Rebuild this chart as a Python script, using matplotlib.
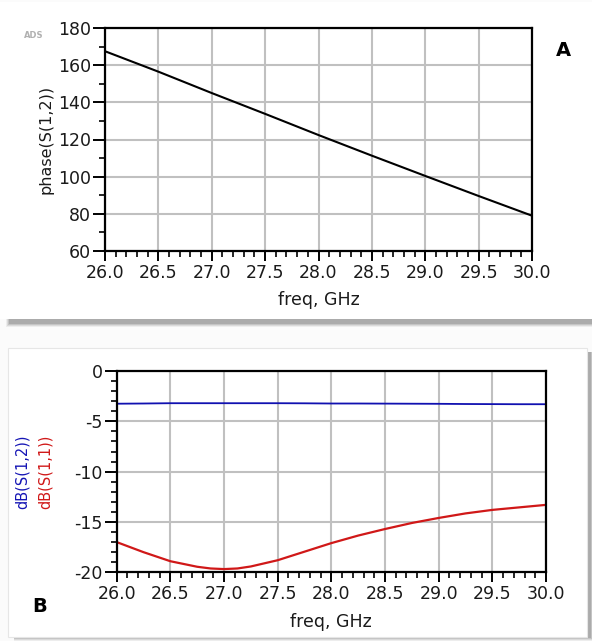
#!/usr/bin/env python3
"""Two ADS-style S-parameter panels: phase(S12) and dB(S12)/dB(S11) vs freq."""

import matplotlib
matplotlib.use("Agg")
import matplotlib.pyplot as plt
from matplotlib.patches import Rectangle
from matplotlib.ticker import MultipleLocator

plt.rcParams["font.family"] = ["DejaVu Sans"]

# panel A: phase(S(1,2)) in degrees
freq_a = [26.0, 26.5, 27.0, 27.5, 28.0, 28.5, 29.0, 29.5, 30.0]
phase_s12 = [167.5, 156.5, 145.0, 133.8, 122.4, 111.3, 100.4, 89.6, 79.0]

# panel B: magnitudes in dB
freq_b = [26.0, 26.25, 26.5, 26.75, 26.875, 27.0, 27.125, 27.25, 27.5, 27.75, 28.0,
          28.25, 28.5, 28.75, 29.0, 29.25, 29.5, 29.75, 30.0]
db_s12 = [-3.25, -3.23, -3.2, -3.2, -3.2, -3.2, -3.2, -3.2, -3.2, -3.21, -3.23,
          -3.23, -3.24, -3.25, -3.26, -3.28, -3.29, -3.3, -3.3]
db_s11 = [-17.0, -18.0, -18.9, -19.45, -19.62, -19.68, -19.62, -19.42, -18.8, -17.95, -17.1,
          -16.35, -15.7, -15.1, -14.6, -14.15, -13.8, -13.55, -13.3]

xticks = [26.0, 26.5, 27.0, 27.5, 28.0, 28.5, 29.0, 29.5, 30.0]

W, H = 592, 641
fig = plt.figure(figsize=(W / 100, H / 100), dpi=100)
fig.patch.set_facecolor("#fbfbfb")


def px_rect(x0, y0, x1, y1, **kw):
    # rectangle given in pixel coords (origin top-left)
    return Rectangle((x0 / W, 1 - y1 / H), (x1 - x0) / W, (y1 - y0) / H,
                     transform=fig.transFigure, **kw)


# card shadows + cards
for i, a in enumerate([0.08, 0.12, 0.16, 0.22]):
    fig.patches.append(px_rect(6 + i, 4, 592, 327 - i, color="#555555", alpha=a, lw=0, zorder=0))
fig.patches.append(px_rect(0, 2, 592, 319, color="white", lw=0, zorder=1))
for i, a in enumerate([0.08, 0.12, 0.16, 0.22]):
    fig.patches.append(px_rect(14, 352, 594 - i, 641 - i, color="#555555", alpha=a, lw=0, zorder=0))
fig.patches.append(px_rect(8, 348, 587, 637, color="white", lw=0, zorder=1))
fig.patches.append(px_rect(8, 348, 587, 637, fill=False, ec="#e6e6e6", lw=0.8, zorder=1))


def style(ax):
    ax.set_xlim(26.0, 30.0)
    ax.set_xticks(xticks)
    ax.set_xticklabels([f"{v:.1f}" for v in xticks])
    ax.xaxis.set_minor_locator(MultipleLocator(0.1))
    ax.grid(True, which="major", color="#c0c0c0", lw=1.5)
    ax.set_axisbelow(True)
    for s in ax.spines.values():
        s.set_color("black")
        s.set_linewidth(1.6)
    ax.tick_params(axis="x", which="major", length=7, width=1.4, pad=2, labelsize=12.5,
                   direction="out", labelcolor="#1a1a1a")
    ax.tick_params(axis="x", which="minor", length=4.5, width=1.2, direction="out")
    ax.tick_params(axis="y", which="major", length=9, width=1.4, pad=1, labelsize=12.5,
                   direction="out", labelcolor="#1a1a1a")
    ax.tick_params(axis="y", which="minor", length=4, width=1.2, direction="out")
    ax.set_xlabel("freq, GHz", fontsize=12.5, labelpad=7, color="#1a1a1a")


# panel A
ax1 = fig.add_axes([105 / W, 1 - 251 / H, (532 - 105) / W, (251 - 28) / H], zorder=3)
ax1.plot(freq_a, phase_s12, color="black", lw=1.5)
ax1.set_ylim(60, 180)
ax1.set_yticks(range(60, 181, 20))
ax1.yaxis.set_minor_locator(MultipleLocator(10))
style(ax1)
ax1.set_ylabel("phase(S(1,2))", fontsize=11.5, labelpad=3, color="#1a1a1a")

# panel B
ax2 = fig.add_axes([116.7 / W, 1 - 572.3 / H, (546 - 116.7) / W, (572.3 - 371) / H], zorder=3)
ax2.plot(freq_b, db_s12, color="#1010b0", lw=1.3)
ax2.plot(freq_b, db_s11, color="#d01818", lw=1.6)
ax2.set_ylim(-20, 0)
ax2.set_yticks(range(-20, 1, 5))
ax2.yaxis.set_minor_locator(MultipleLocator(1))
style(ax2)
ax2.set_yticklabels([str(v) for v in range(-20, 1, 5)])

fig.text(22 / W, 1 - 472 / H, "dB(S(1,2))", color="#1515b5", fontsize=10.5,
         rotation=90, ha="center", va="center", zorder=4)
fig.text(45 / W, 1 - 472 / H, "dB(S(1,1))", color="#d01818", fontsize=10.5,
         rotation=90, ha="center", va="center", zorder=4)

fig.text(34 / W, 1 - 36 / H, "ADS", color="#b0b0b0", fontsize=6, fontweight="bold",
         ha="center", va="center", zorder=4)
fig.text(563 / W, 1 - 50 / H, "A", fontsize=14, fontweight="bold",
         ha="center", va="center", zorder=4)
fig.text(40 / W, 1 - 607 / H, "B", fontsize=14, fontweight="bold",
         ha="center", va="center", zorder=4)

fig.savefig("out.png", dpi=100)
